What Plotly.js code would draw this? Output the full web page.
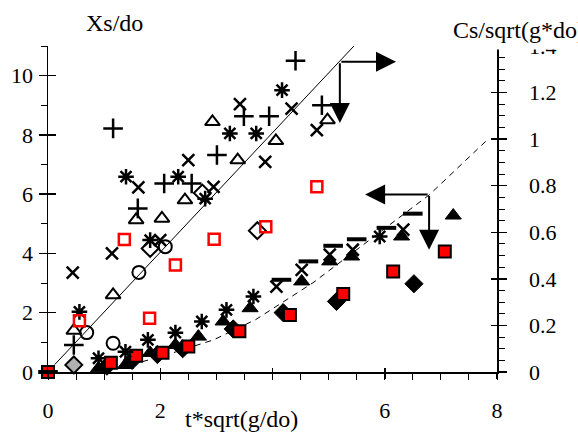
<!DOCTYPE html>
<html>
<head>
<meta charset="utf-8">
<script src="https://cdn.plot.ly/plotly-3.0.1.min.js"></script>
<style>html,body{margin:0;padding:0;background:#fff}#chart{width:578px;height:432px}</style>
</head>
<body>
<div id="chart"></div>
<script>
// ---- Xs/do (left axis) ----
const plusX  = [1.16, 2.07, 2.56, 1.60, 0.46, 3.01, 3.49, 3.94, 4.41, 4.88];
const plusY  = [8.22, 6.36, 6.36, 5.52, 0.91, 7.32, 8.63, 8.63, 10.5, 9.0];
const crossX = [0.44, 1.14, 1.61, 2.00, 2.50, 2.95, 3.42, 3.87, 4.34, 4.79];
const crossY = [3.35, 4.00, 6.23, 4.45, 7.15, 6.25, 9.04, 7.09, 8.89, 8.16];
const starX  = [0.56, 1.39, 1.82, 2.32, 2.80, 3.24, 3.71, 4.17];
const starY  = [2.03, 6.59, 4.45, 6.59, 5.85, 8.05, 8.05, 9.51];
const triX   = [0.46, 1.16, 1.57, 2.03, 2.44, 2.93, 3.38, 4.06, 4.98];
const triY   = [1.40, 2.60, 5.13, 5.18, 5.80, 8.44, 7.15, 7.80, 8.50];
const circX  = [0.69, 1.16, 1.62, 2.09];
const circY  = [1.33, 0.97, 3.36, 4.23];
const diamX  = [1.82, 2.75, 3.73];
const diamY  = [4.17, 6.04, 4.77];
const greyDiamX = [0.46];
const greyDiamY = [0.24];
const sqOpenX = [0.56, 1.36, 1.81, 2.27, 2.96, 3.88, 4.79];
const sqOpenY = [1.73, 4.47, 1.81, 3.61, 4.48, 4.90, 6.25];

// ---- Cs/sqrt(g*do) (right axis) ----
const dashRX  = [0, 4.16, 4.64, 5.08, 5.50, 6.03, 6.50];
const dashRY  = [0, 0.396, 0.475, 0.542, 0.570, 0.619, 0.680];
const starRX  = [0.90, 1.38, 1.78, 2.27, 2.74, 3.18, 3.66, 5.91];
const starRY  = [0.059, 0.087, 0.138, 0.169, 0.217, 0.267, 0.324, 0.582];
const crossRX = [4.07, 4.52, 5.02, 5.43, 6.33];
const crossRY = [0.367, 0.439, 0.504, 0.525, 0.611];
const triRX   = [0.90, 1.38, 1.82, 2.27, 2.68, 3.12, 3.60, 4.52, 5.02, 5.41, 6.30, 7.22];
const triRY   = [0.016, 0.030, 0.082, 0.116, 0.152, 0.217, 0.274, 0.389, 0.475, 0.496, 0.582, 0.672];
const diamRX  = [1.05, 1.50, 1.95, 2.40, 3.30, 4.19, 5.14, 6.52];
const diamRY  = [0.025, 0.050, 0.075, 0.100, 0.185, 0.255, 0.303, 0.379];
const sqRX    = [0, 1.12, 1.57, 2.04, 2.50, 3.41, 4.31, 5.26, 6.15, 7.07];
const sqRY    = [0, 0.040, 0.070, 0.083, 0.110, 0.175, 0.245, 0.335, 0.432, 0.518];

// ---- fitted lines ----
const solidX = [0.12, 5.55];
const solidY = [0.25, 11.2];
const dashLX = [1.3, 2.0, 2.95, 3.7, 4.72, 5.79, 6.8, 7.84];
const dashLY = [0.02, 0.065, 0.138, 0.225, 0.383, 0.58, 0.762, 1.0];

// ---- arrows: corner and tips ----
const arrow1Corner = [5.2, 10.47];
const arrow1Tips = [[6.2, 10.47], [5.2, 8.4]];
const arrow2Corner = [6.79, 0.762];
const arrow2Tips = [[5.65, 0.762], [6.79, 0.525]];

// ---- axis ticks ----
const xTicks = [0, 2, 4, 6, 8];
const yLeftTicks = [0, 2, 4, 6, 8, 10];
const yRightTicks = [0, 0.2, 0.4, 0.6, 0.8, 1, 1.2, 1.4];

const FONT = '"Liberation Serif", "DejaVu Serif", serif';
const blk = 'black';

function sc(x, y, symbol, opts, yaxis) {
  return {
    type: 'scatter', mode: 'markers', x: x, y: y, yaxis: yaxis || 'y',
    cliponaxis: false, hoverinfo: 'skip',
    marker: Object.assign({symbol: symbol, color: blk}, opts)
  };
}
const traces = [
  {type:'scatter', mode:'lines', x: solidX, y: solidY, line:{color:blk, width:1}, hoverinfo:'skip'},
  {type:'scatter', mode:'lines', x: dashLX, y: dashLY, yaxis:'y2', line:{color:blk, width:1, dash:'6px,5px'}, hoverinfo:'skip'},
  // left
  sc(plusX, plusY, 'cross-thin-open', {size:14, line:{color:blk, width:2.5}}),
  sc(crossX, crossY, 'x-thin-open', {size:12, line:{color:blk, width:2.5}}),
  sc(starX, starY, 'asterisk-open', {size:13, line:{color:blk, width:2.5}}),
  sc(triX, triY, 'triangle-up-open', {size:13, line:{color:blk, width:2}}),
  sc(circX, circY, 'circle-open', {size:13, line:{color:blk, width:2}}),
  sc(diamX, diamY, 'diamond-open', {size:13, line:{color:blk, width:2}}),
  sc(greyDiamX, greyDiamY, 'diamond', {size:13, color:'#b0b0b0', line:{color:blk, width:2}}),
  sc(sqOpenX, sqOpenY, 'square-open', {size:11, color:'#ff0000', line:{color:'#ff0000', width:2.5}}),
  // right
  sc(diamRX, diamRY, 'diamond', {size:14, line:{color:blk, width:1}}, 'y2'),
  sc(triRX, triRY, 'triangle-up', {size:14, line:{color:blk, width:1}}, 'y2'),
  sc(sqRX, sqRY, 'square', {size:12, color:'#ff0000', line:{color:blk, width:2}}, 'y2'),
  sc(starRX, starRY, 'asterisk-open', {size:13, line:{color:blk, width:2.5}}, 'y2'),
  sc(crossRX, crossRY, 'x-thin-open', {size:12, line:{color:blk, width:2.5}}, 'y2'),
  sc(dashRX, dashRY, 'line-ew-open', {size:14, line:{color:blk, width:4}}, 'y2'),
  // helpers so that overlay tick axes are drawn
  {type:'scatter', mode:'markers', x:[null], y:[null], xaxis:'x2', yaxis:'y3', hoverinfo:'skip'},
  {type:'scatter', mode:'markers', x:[null], y:[null], xaxis:'x2', yaxis:'y4', hoverinfo:'skip'}
];

const tickFont = {family: FONT, size: 22, color: blk};
const arrowStyle = {text:'', showarrow:true, arrowhead:2, arrowsize:2, arrowwidth:2, arrowcolor:blk, standoff:0, startstandoff:0};
const annotations = [
  {xref:'paper', yref:'paper', x:0.08, y:1.0706, yanchor:'middle', text:'Xs/do', showarrow:false, font:{family:FONT, size:24, color:blk}},
  {xref:'paper', yref:'paper', x:0.886, y:1.049, xanchor:'left', yanchor:'middle', text:'Cs/sqrt(g*do)', showarrow:false, bgcolor:'white', borderpad:6, font:{family:FONT, size:24, color:blk}},
  {xref:'paper', yref:'paper', x:0.432, y:-0.143, yanchor:'middle', text:'t*sqrt(g/do)', showarrow:false, bgcolor:'white', borderpad:2, font:{family:FONT, size:24, color:blk}}
];
arrow1Tips.forEach(t => annotations.push(Object.assign({xref:'x', yref:'y', axref:'x', ayref:'y', x:t[0], y:t[1], ax:arrow1Corner[0], ay:arrow1Corner[1]}, arrowStyle)));
arrow2Tips.forEach(t => annotations.push(Object.assign({xref:'x', yref:'y2', axref:'x', ayref:'y2', x:t[0], y:t[1], ax:arrow2Corner[0], ay:arrow2Corner[1]}, arrowStyle)));

const layout = {
  width: 578, height: 432,
  margin: {l: 48, r: 81, t: 46, b: 60, pad: 0},
  paper_bgcolor: 'white', plot_bgcolor: 'white',
  showlegend: false,
  font: {family: FONT, color: blk},
  xaxis: {range:[0,8], tickvals:xTicks, ticks:'outside', ticklen:5, tickwidth:1.5, tickcolor:blk,
          showline:true, linecolor:blk, linewidth:1.5, showgrid:false, zeroline:false,
          minor:{dtick:0.5, tick0:0, ticks:'outside', ticklen:6, tickwidth:1, tickcolor:blk, showgrid:false},
          tickfont:tickFont, ticklabelstandoff:13},
  xaxis2: {range:[0,8], overlaying:'x', anchor:'y', tickvals:xTicks, ticks:'inside', ticklen:4, tickwidth:1.5, tickcolor:blk,
          showticklabels:false, showline:false, showgrid:false, zeroline:false},
  yaxis: {range:[0,11], tickvals:yLeftTicks, ticks:'outside', ticklen:8, tickwidth:1.5, tickcolor:blk,
          showline:true, linecolor:blk, linewidth:1.5, showgrid:false, zeroline:false,
          minor:{dtick:1, tick0:0, ticks:'outside', ticklen:6, tickwidth:1, tickcolor:blk, showgrid:false},
          tickfont:tickFont, ticklabelstandoff:1},
  yaxis2: {range:[0,1.4], overlaying:'y', side:'right', anchor:'x', tickvals:yRightTicks, ticks:'outside', ticklen:8, tickwidth:1.5, tickcolor:blk,
          showline:true, linecolor:blk, linewidth:1.5, showgrid:false, zeroline:false,
          minor:{dtick:0.05, tick0:0, ticks:'outside', ticklen:6, tickwidth:1, tickcolor:blk, showgrid:false},
          tickfont:tickFont, ticklabelstandoff:18},
  yaxis3: {range:[0,11], overlaying:'y', side:'left', anchor:'x2', tickvals:yLeftTicks, ticks:'inside', ticklen:8, tickwidth:1.5, tickcolor:blk,
          showticklabels:false, showline:false, showgrid:false, zeroline:false},
  yaxis4: {range:[0,1.4], overlaying:'y', side:'right', anchor:'x2', tickvals:yRightTicks, ticks:'inside', ticklen:6, tickwidth:1.5, tickcolor:blk,
          showticklabels:false, showline:false, showgrid:false, zeroline:false},
  annotations: annotations
};

Plotly.newPlot('chart', traces, layout, {displayModeBar:false, staticPlot:true});
</script>
</body>
</html>
